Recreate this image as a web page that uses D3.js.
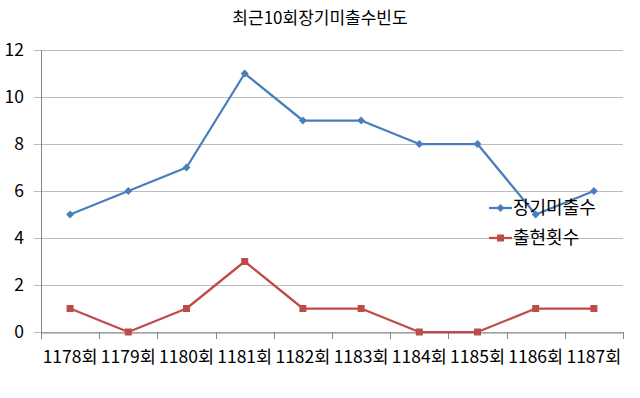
<!DOCTYPE html>
<html>
<head>
<meta charset="utf-8">
<script src="https://cdn.jsdelivr.net/npm/d3@7"></script>
<style>
  body { margin: 0; background: #fff; }
  text { font-family: "Noto Sans CJK KR", "Noto Sans", sans-serif; fill: #000; }
</style>
</head>
<body>
<div id="chart"></div>
<script>
var w = 640;
var h = 398;

var border = { top: 50, bottom: 66, left: 41, right: 17 };

var rounds = ['1178회', '1179회', '1180회', '1181회', '1182회', '1183회', '1184회', '1185회', '1186회', '1187회'];
var missing = [5, 6, 7, 11, 9, 9, 8, 8, 5, 6];
var appear = [1, 0, 1, 3, 1, 1, 0, 0, 1, 1];
var yTicks = [0, 2, 4, 6, 8, 10, 12];

var seriesNames = ['장기미출수', '출현횟수'];
var colors = ['#4a7ebb', '#be4b48'];

const svg = d3.select('#chart')
              .append('svg')
              .attr('width', w)
              .attr('height', h);

var x = d3.scaleBand()
          .domain(rounds)
          .range([border.left, w - border.right]);

var y = d3.scaleLinear()
          .domain([0, 12])
          .range([h - border.bottom, border.top]);

// gridlines
svg.append('g')
   .selectAll('line')
   .data(yTicks)
   .enter()
   .append('line')
   .attr('x1', border.left - 7)
   .attr('x2', w - border.right)
   .attr('y1', d => Math.round(y(d)) + 0.5)
   .attr('y2', d => Math.round(y(d)) + 0.5)
   .attr('stroke', '#bdbdbd')
   .attr('stroke-width', 1);

// y labels
svg.append('g')
   .selectAll('text')
   .data(yTicks)
   .enter()
   .append('text')
   .attr('x', 24)
   .attr('y', d => y(d))
   .attr('dy', '0.35em')
   .attr('text-anchor', 'end')
   .style('font-size', '17.5px')
   .text(d => d);

// y axis line
svg.append('line')
   .attr('x1', border.left + 0.5)
   .attr('x2', border.left + 0.5)
   .attr('y1', y(12))
   .attr('y2', y(0))
   .attr('stroke', '#868686');

// x axis
var xAxis = svg.append('g')
   .attr('transform', `translate(0, ${Math.round(y(0)) + 0.5})`)
   .call(d3.axisBottom(x).tickSize(0).tickPadding(18));
xAxis.select('.domain').attr('stroke', '#868686');
xAxis.selectAll('text').style('font-size', '17.5px').attr('font-family', null);

// category boundary ticks
svg.append('g')
   .selectAll('line')
   .data(rounds.concat(['end']))
   .enter()
   .append('line')
   .attr('x1', (d, i) => Math.round(border.left + i * x.step()) + 0.5)
   .attr('x2', (d, i) => Math.round(border.left + i * x.step()) + 0.5)
   .attr('y1', y(0))
   .attr('y2', y(0) + 7)
   .attr('stroke', '#868686');

var line = d3.line()
             .x((d, i) => x(rounds[i]) + x.bandwidth() / 2)
             .y(d => y(d));

var series = [missing, appear];

series.forEach((s, k) => {
  svg.append('path')
     .datum(s)
     .attr('d', line)
     .attr('fill', 'none')
     .attr('stroke', colors[k])
     .attr('stroke-width', 2.25)
     .attr('stroke-linejoin', 'round');
});

// markers
svg.selectAll('.diamond')
   .data(missing)
   .enter()
   .append('path')
   .attr('class', 'diamond')
   .attr('d', d3.symbol().type(d3.symbolDiamond2).size(40))
   .attr('transform', (d, i) => `translate(${x(rounds[i]) + x.bandwidth() / 2}, ${y(d)})`)
   .attr('fill', colors[0]);

svg.selectAll('.square')
   .data(appear)
   .enter()
   .append('rect')
   .attr('class', 'square')
   .attr('x', (d, i) => x(rounds[i]) + x.bandwidth() / 2 - 3.5)
   .attr('y', d => y(d) - 3.5)
   .attr('width', 7)
   .attr('height', 7)
   .attr('fill', colors[1]);

// legend
var legend = svg.append('g').attr('transform', 'translate(489, 208)');
seriesNames.forEach((name, k) => {
  var g = legend.append('g').attr('transform', `translate(0, ${k * 30})`);
  g.append('line')
   .attr('x1', 0).attr('x2', 23)
   .attr('y1', 0).attr('y2', 0)
   .attr('stroke', colors[k])
   .attr('stroke-width', 2.25);
  if (k == 0) {
    g.append('path')
     .attr('d', d3.symbol().type(d3.symbolDiamond2).size(40))
     .attr('transform', 'translate(11.5, 0)')
     .attr('fill', colors[k]);
  } else {
    g.append('rect')
     .attr('x', 8).attr('y', -3.5)
     .attr('width', 7).attr('height', 7)
     .attr('fill', colors[k]);
  }
  g.append('text')
   .attr('x', 24)
   .attr('y', 0)
   .attr('dy', '0.35em')
   .style('font-size', '18px')
   .text(name);
});

// title
svg.append('text')
   .attr('x', w / 2)
   .attr('y', 18)
   .attr('dy', '0.35em')
   .attr('text-anchor', 'middle')
   .style('font-size', '17px')
   .text('최근10회장기미출수빈도');
</script>
</body>
</html>
